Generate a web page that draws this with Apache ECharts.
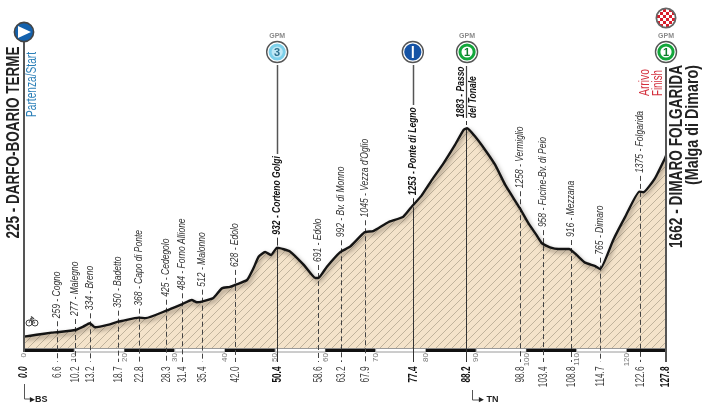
<!DOCTYPE html>
<html>
<head>
<meta charset="utf-8">
<style>
html, body { margin: 0; padding: 0; background: #fff; }
#chart { width: 710px; height: 412px; }
</style>
<script src="https://cdn.jsdelivr.net/npm/echarts@6/dist/echarts.min.js"></script>
</head>
<body>
<div id="chart"></div>
<script>
// route profile
const profileKm = [0, 2.5, 5.5, 6.6, 9.2, 10.2, 11.8, 13.1, 14.1, 17.1, 18.7, 19.8, 22.8, 24.2, 28.3, 31.4, 33.4, 34.4, 35.4, 37.7, 39.4, 41, 42, 44.4, 45.7, 46.7, 48, 49.2, 50.4, 53, 55.7, 58, 58.6, 60.3, 62.9, 64.9, 67.8, 69.5, 72.5, 75.5, 77.3, 79.1, 81.2, 83.5, 85.8, 87.5, 88.2, 89.8, 91.8, 93.8, 95.8, 98.7, 100.4, 102, 103.1, 104.7, 106.4, 108.5, 110, 111.7, 113.7, 114.7, 117.3, 119.7, 122.5, 123.3, 125.6, 127.6, 127.8];
const profileElev = [225, 240, 257, 260, 272, 278, 305, 331, 300, 323, 344, 352, 376, 372, 431, 482, 516, 498, 503, 532, 609, 620, 636, 675, 770, 860, 897, 874, 932, 900, 795, 691, 691, 781, 895, 940, 1054, 1064, 1134, 1178, 1263, 1343, 1470, 1602, 1748, 1867, 1880, 1814, 1708, 1589, 1430, 1245, 1126, 1033, 967, 935, 921, 921, 874, 813, 786, 762, 993, 1178, 1377, 1372, 1483, 1642, 1662];

// intermediate places
const stopKm = [6.6, 10.2, 13.2, 18.7, 22.8, 28.3, 31.4, 35.4, 42.0, 50.4, 58.6, 63.2, 67.9, 77.4, 98.8, 103.4, 108.8, 114.7, 122.6];
const stopKmText = ['6.6', '10.2', '13.2', '18.7', '22.8', '28.3', '31.4', '35.4', '42.0', '50.4', '58.6', '63.2', '67.9', '77.4', '98.8', '103.4', '108.8', '114.7', '122.6'];
const stopElev = [260, 278, 331, 344, 376, 431, 482, 503, 636, 932, 691, 895, 1054, 1253, 1245, 960, 921, 765, 1375];
const stopNames = ['259 - Cogno', '277 - Malegno', '334 - Breno', '350 - Badetto', '368 - Capo di Ponte', '425 - Cedegolo', '484 - Forno Allione', '512 - Malonno', '628 - Edolo', '932 - Corteno Golgi', '691 - Edolo', '992 - Bv. di Monno', '1045 - Vezza d\'Oglio', '1253 - Ponte di Legno', '1258 - Vermiglio', '958 - Fucine-Bv. di Peio', '916 - Mezzana', '765 - Dimaro', '1375 - Folgarida'];
const stopGaps = [14, 14, 13, 14, 12, 14, 14, 15, 18, 13, 16, 15, 15, 12, 20, 17, 12, 14, 19];
const boldStops = [50.4, 77.4];

const climbKm = [50.4, 77.4, 88.2, 127.8];
const climbTypes = ['3', 'I', '1', '1'];

// no narrow face is installed, so the text gets squeezed along its length
const FONT = '"Liberation Sans", sans-serif';
const NAME_SQUEEZE = 0.74;
const KM_SQUEEZE = 0.66;
const BASE_Y = 348;
const KM_TOP = 366.5;

const measurer = document.createElement('canvas').getContext('2d');

function fit(text, size, weight, length) {
    measurer.font = weight + ' ' + size + 'px "Liberation Sans"';
    return length / measurer.measureText(text).width;
}

function hatchPattern() {
    let c = document.createElement('canvas');
    c.width = 8;
    c.height = 8;
    let ctx = c.getContext('2d');
    ctx.fillStyle = '#f4e3ca';
    ctx.fillRect(0, 0, 8, 8);
    ctx.strokeStyle = '#b3a791';
    ctx.lineWidth = 0.8;
    ctx.beginPath();
    ctx.moveTo(-1, 9);
    ctx.lineTo(9, -1);
    ctx.stroke();
    return c;
}

function checkPattern() {
    let c = document.createElement('canvas');
    c.width = 6;
    c.height = 6;
    let ctx = c.getContext('2d');
    ctx.fillStyle = '#fff';
    ctx.fillRect(0, 0, 6, 6);
    ctx.fillStyle = '#d81e2c';
    ctx.fillRect(0, 0, 3, 3);
    ctx.fillRect(3, 3, 3, 3);
    return c;
}

function vText(x, y, text, size, color, squeeze, extra) {
    return {
        type: 'text',
        x: x,
        y: y,
        rotation: Math.PI / 2,
        scaleX: squeeze,
        z: 8,
        z2: 5,
        style: Object.assign({
            text: text,
            fontFamily: FONT,
            fontSize: size,
            fill: color,
            textAlign: 'left',
            textVerticalAlign: 'middle'
        }, extra || {})
    };
}

function vLine(x, y1, y2, color, width, dash) {
    return {
        type: 'line',
        shape: {x1: x, y1: y1, x2: x, y2: y2},
        style: {stroke: color, lineWidth: width, lineDash: dash || null}
    };
}

function kmText(x, text, bold, italic) {
    return vText(x, KM_TOP, text, 12.5, bold ? '#111' : '#444', KM_SQUEEZE, {
        fontWeight: bold ? 'bold' : 'normal',
        fontStyle: italic ? 'italic' : 'normal',
        textAlign: 'right'
    });
}

function renderStop(params, api) {
    let i = params.dataIndex;
    let p = api.coord([api.value(0), api.value(1)]);
    let x = Math.round(p[0]) + 0.5;
    let bold = boldStops.indexOf(stopKm[i]) >= 0;
    let labelY = p[1] - stopGaps[i];
    let kids = [];
    if (bold) {
        kids.push(vLine(x, p[1], 362, '#333', 1));
        kids.push(vLine(x, labelY + 3, p[1] - 2, '#333', 1));
    } else {
        kids.push(vLine(x, labelY + 3, 362, '#444', 1, [5, 3]));
    }
    kids.push(vText(x - 1, labelY, stopNames[i], 11.5, bold ? '#111' : '#333', NAME_SQUEEZE, {
        fontStyle: 'italic',
        fontWeight: bold ? 'bold' : 'normal'
    }));
    kids.push(kmText(x, stopKmText[i], bold, false));
    // top of a climb label carries on to its badge
    if (bold) {
        let top = stopKm[i] === 50.4 ? 154 : 105;
        kids.push(vLine(x, 65, top, '#555', 1.5));
    }
    return {type: 'group', children: kids};
}

function renderBar(params, api) {
    let from = api.value(0), to = api.value(1);
    let a = api.coord([from, 135]), b = api.coord([to, 135]);
    let black = api.value(2) === 1;
    return {
        type: 'rect',
        shape: {x: a[0], y: BASE_Y + 0.5, width: b[0] - a[0], height: 3.5},
        style: black ? {fill: '#111'} : {fill: '#fff', stroke: '#9a9a9a', lineWidth: 1}
    };
}

function badge(x, y, fill, kids) {
    return [
        {type: 'circle', shape: {cx: x, cy: y, r: 10.5}, style: {fill: '#fff', stroke: '#555', lineWidth: 1.4}},
        {type: 'circle', shape: {cx: x, cy: y, r: 8.6}, style: {fill: fill}}
    ].concat(kids || []);
}

function renderClimb(params, api) {
    let i = params.dataIndex;
    let x = api.coord([api.value(0), 135])[0];
    let y = 52;
    let kind = climbTypes[i];
    let kids;
    if (kind === 'I') {
        kids = badge(x, y, '#1553a5', [{type: 'rect', shape: {x: x - 1, y: y - 6, width: 2, height: 12}, style: {fill: '#fff'}}]);
    } else {
        let green = kind === '1';
        kids = badge(x, y, green ? '#12a63a' : '#7dd0ea', [
            {type: 'circle', shape: {cx: x, cy: y, r: 5.6}, style: {fill: green ? '#fff' : '#bfe8f5'}},
            {type: 'text', x: x, y: y + 0.5, style: {text: kind, fontFamily: FONT, fontWeight: 'bold', fontSize: 11, fill: green ? '#0c7a2a' : '#2c6f8c', textAlign: 'center', textVerticalAlign: 'middle'}}
        ]);
        kids.push({type: 'text', x: x, y: 36, style: {text: 'GPM', fontFamily: FONT, fontWeight: 'bold', fontSize: 7, fill: '#8a8a8a', textAlign: 'center', textVerticalAlign: 'middle'}});
    }
    return {type: 'group', children: kids};
}

// alternate black / white stretches of the km scale
let scaleBars = [];
for (let k = 0; k < 127.8; k += 10) {
    scaleBars.push([k, Math.min(k + 10, 127.8), k % 20 === 0 ? 1 : 0]);
}

const titleStyle = {fontWeight: 'bold'};
const redText = '#d32f3c';

let chart = echarts.init(document.getElementById('chart'), null, {renderer: 'canvas'});

chart.setOption({
    backgroundColor: '#fff',
    animation: false,
    grid: {left: 24, right: 44, top: 20, height: 328},
    xAxis: {
        type: 'value',
        min: 0,
        max: 127.8,
        interval: 10,
        splitLine: {show: false},
        axisLine: {show: false},
        axisTick: {show: false},
        axisLabel: {
            rotate: 90,
            margin: 5,
            showMaxLabel: false,
            fontFamily: FONT,
            fontSize: 8,
            color: '#777'
        }
    },
    yAxis: {type: 'value', min: 135, max: 2740, show: false},
    series: [
        {
            type: 'line',
            z: 1,
            symbol: 'none',
            smooth: 0.15,
            data: profileKm.map((k, i) => [k, profileElev[i]]),
            lineStyle: {width: 0},
            areaStyle: {color: {image: hatchPattern(), repeat: 'repeat'}, opacity: 1}
        },
        {
            type: 'custom',
            z: 2,
            renderItem: renderBar,
            data: scaleBars
        },
        {
            type: 'custom',
            z: 3,
            renderItem: renderStop,
            data: stopKm.map((k, i) => [k, stopElev[i]])
        },
        {
            type: 'line',
            z: 4,
            symbol: 'none',
            smooth: 0.15,
            data: profileKm.map((k, i) => [k, profileElev[i]]),
            lineStyle: {
                color: '#141414',
                width: 2.4,
                join: 'round',
                shadowColor: 'rgba(60,50,40,0.55)',
                shadowBlur: 4,
                shadowOffsetX: 1.5,
                shadowOffsetY: 2.5
            }
        },
        {
            type: 'custom',
            z: 5,
            renderItem: renderClimb,
            data: climbKm.map(k => [k])
        }
    ],
    graphic: [
        // start side
        {type: 'line', z: 6, shape: {x1: 24, y1: 42, x2: 24, y2: 352}, style: {stroke: '#555', lineWidth: 2}},
        {type: 'circle', z: 7, shape: {cx: 24, cy: 32, r: 9.6}, style: {fill: '#1361ad', stroke: '#444', lineWidth: 1.6}},
        {type: 'polygon', z: 8, shape: {points: [[18, 26], [31, 32], [18, 38]]}, style: {fill: '#fff'}},
        vText(14, 238.5, '225 - DARFO-BOARIO TERME', 18.5, '#222', fit('225 - DARFO-BOARIO TERME', 18.5, 'bold', 192), titleStyle),
        vText(32, 117, 'Partenza/Start', 14, '#2a7fb8', fit('Partenza/Start', 14, 'normal', 65)),
        kmText(24, '0.0', true, true),

        // finish side
        {type: 'line', z: 6, shape: {x1: 666, y1: 67, x2: 666, y2: 362}, style: {stroke: '#555', lineWidth: 2}},
        {type: 'circle', z: 7, shape: {cx: 666, cy: 18, r: 9.6}, style: {fill: {image: checkPattern(), repeat: 'repeat'}, stroke: '#666', lineWidth: 1.8}},
        vText(677, 248, '1662 - DIMARO FOLGARIDA', 18.5, '#222', fit('1662 - DIMARO FOLGARIDA', 18.5, 'bold', 183), titleStyle),
        vText(693, 185, '(Malga di Dimaro)', 18.5, '#222', fit('(Malga di Dimaro)', 18.5, 'bold', 120), titleStyle),
        vText(645, 96, 'Arrivo', 14, redText, fit('Arrivo', 14, 'normal', 27)),
        vText(658, 96, 'Finish', 14, redText, fit('Finish', 14, 'normal', 26)),
        kmText(666, '127.8', true, false),

        // summit
        {type: 'line', z: 6, shape: {x1: 466.5, y1: 66, x2: 466.5, y2: 118}, style: {stroke: '#444', lineWidth: 1.2}},
        {type: 'line', z: 3, shape: {x1: 466.5, y1: 128, x2: 466.5, y2: 362}, style: {stroke: '#333', lineWidth: 1}},
        {type: 'line', z: 3, shape: {x1: 466.5, y1: 121, x2: 466.5, y2: 125}, style: {stroke: '#333', lineWidth: 1}},
        vText(461, 118, '1883 - Passo', 11.5, '#111', NAME_SQUEEZE, {fontWeight: 'bold', fontStyle: 'italic'}),
        vText(473, 118, 'del Tonale', 11.5, '#111', NAME_SQUEEZE, {fontWeight: 'bold', fontStyle: 'italic'}),
        kmText(467, '88.2', true, false),

        // direction hints
        {type: 'polyline', z: 6, shape: {points: [[24.5, 384], [24.5, 399], [30, 399]]}, style: {stroke: '#555', fill: null, lineWidth: 1}},
        {type: 'text', z: 8, x: 30, y: 399.5, style: {text: '▸BS', fontFamily: FONT, fontWeight: 'bold', fontSize: 9, fill: '#222', textVerticalAlign: 'middle'}},
        {type: 'polyline', z: 6, shape: {points: [[472.5, 390], [472.5, 400], [479, 400]]}, style: {stroke: '#555', fill: null, lineWidth: 1}},
        {type: 'text', z: 8, x: 479, y: 400, style: {text: '▸ TN', fontFamily: FONT, fontWeight: 'bold', fontSize: 9, fill: '#222', textVerticalAlign: 'middle'}},

        // bike
        {type: 'circle', z: 8, shape: {cx: 29, cy: 323, r: 3}, style: {fill: null, stroke: '#444', lineWidth: 1}},
        {type: 'circle', z: 8, shape: {cx: 35, cy: 323, r: 3}, style: {fill: null, stroke: '#444', lineWidth: 1}},
        {type: 'polyline', z: 8, shape: {points: [[29, 323], [31, 318], [35, 323], [32, 323], [31, 318]]}, style: {stroke: '#444', fill: null, lineWidth: 0.8}},
        {type: 'line', z: 8, shape: {x1: 31, y1: 316.5, x2: 34, y2: 319}, style: {stroke: '#444', lineWidth: 1.4}}
    ]
});
</script>
</body>
</html>
